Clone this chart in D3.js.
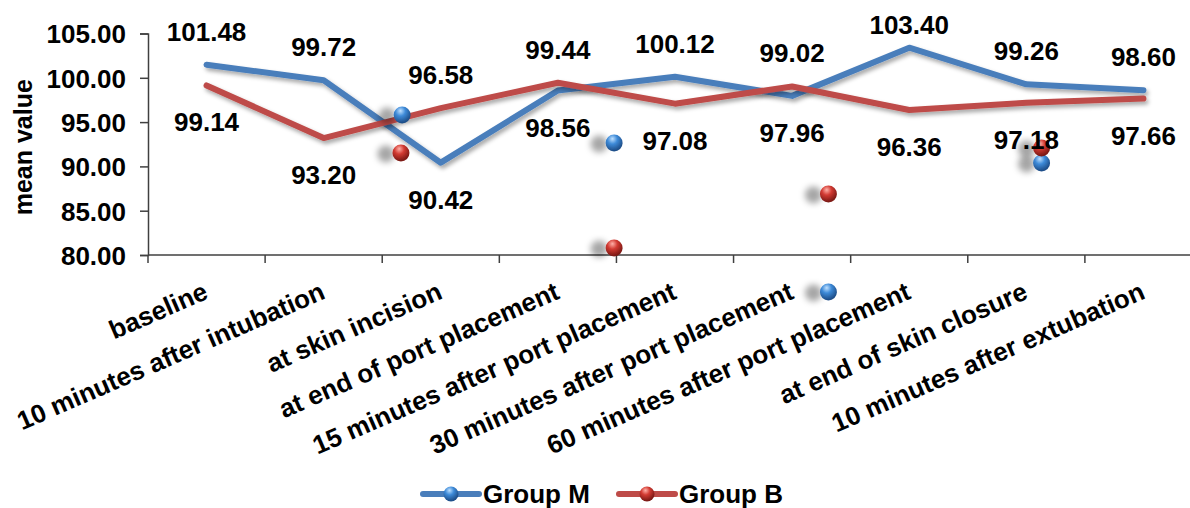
<!DOCTYPE html>
<html>
<head>
<meta charset="utf-8">
<script src="https://cdn.jsdelivr.net/npm/d3@7"></script>
<style>
  html, body { margin: 0; padding: 0; background: #fff; }
  svg { display: block; font-family: "Liberation Sans", Arial, sans-serif; font-weight: bold; }
</style>
</head>
<body>
<svg id="chart" width="1190" height="508"></svg>
<script>
// ---- data ----
const categories = [
  "baseline",
  "10 minutes after intubation",
  "at skin incision",
  "at end of port placement",
  "15 minutes after port placement",
  "30 minutes after port placement",
  "60 minutes after port placement",
  "at end of skin closure",
  "10 minutes after extubation"
];
const groupM = [101.48, 99.72, 90.42, 98.56, 100.12, 97.96, 103.40, 99.26, 98.60];
const groupB = [99.14, 93.20, 96.58, 99.44, 97.08, 99.02, 96.36, 97.18, 97.66];
const seriesNames = ["Group M", "Group B"];
const yTicks = [80, 85, 90, 95, 100, 105];
// stray marker artifacts visible in the source picture (category position, value)
const strayM = [[1.67, 95.80], [3.48, 92.64], [5.31, 75.82], [7.13, 90.38]];
const strayB = [[1.66, 91.51], [3.48, 80.79], [5.31, 86.88], [7.13, 92.08]];

// ---- layout ----
const colors = { "Group M": "#4A7EBB", "Group B": "#BE4B48" };
const svg = d3.select("#chart");
const pLeft = 148, pRight = 1202, pTop = 33.5, pBottom = 255;

const x = d3.scaleBand().domain(categories).range([pLeft, pRight]).paddingInner(0).paddingOuter(0);
const xi = d3.scaleLinear().domain([0, categories.length]).range([pLeft, pRight]);
const y = d3.scaleLinear().domain([80, 105]).range([pBottom, pTop]);
const cx = c => x(c) + x.bandwidth() / 2;

// defs
const defs = svg.append("defs");
const sh = defs.append("filter").attr("id", "lineShadow").attr("x", "-5%").attr("y", "-20%").attr("width", "110%").attr("height", "160%");
sh.append("feDropShadow").attr("dx", 2).attr("dy", 3).attr("stdDeviation", 2).attr("flood-color", "#000").attr("flood-opacity", 0.35);
const msh = defs.append("filter").attr("id", "markerShadow").attr("x", "-300%").attr("y", "-100%").attr("width", "500%").attr("height", "300%");
msh.append("feDropShadow").attr("dx", -15).attr("dy", 1).attr("stdDeviation", 3).attr("flood-color", "#000").attr("flood-opacity", 0.35);

function ballGrad(id, light, base, dark) {
  const g = defs.append("radialGradient").attr("id", id).attr("cx", "40%").attr("cy", "30%").attr("r", "65%").attr("fx", "40%").attr("fy", "25%");
  g.append("stop").attr("offset", "0%").attr("stop-color", light);
  g.append("stop").attr("offset", "45%").attr("stop-color", base);
  g.append("stop").attr("offset", "100%").attr("stop-color", dark);
}
ballGrad("ballM", "#bfe0ff", "#3d8ad8", "#1f4f8a");
ballGrad("ballB", "#ffb0a8", "#d23a32", "#7e1a16");
const ballFill = { "Group M": "url(#ballM)", "Group B": "url(#ballB)" };

// axes
const yAxis = d3.axisLeft(y).tickValues(yTicks).tickSize(8).tickFormat(d => d.toFixed(2));
const gy = svg.append("g").attr("transform", `translate(${pLeft},0)`).call(yAxis);
gy.select(".domain").attr("stroke", "#404040").attr("stroke-width", 1.5);
gy.selectAll(".tick line").attr("stroke", "#404040").attr("stroke-width", 1.5);
gy.selectAll(".tick text").attr("x", -22).attr("dy", "0.36em")
  .style("font-size", "26px").style("font-weight", "bold").style("font-family", "'Liberation Sans', Arial, sans-serif").attr("fill", "#000");

const gx = svg.append("g").attr("transform", `translate(0,${pBottom})`);
gx.append("line").attr("x1", pLeft).attr("x2", pRight).attr("stroke", "#404040").attr("stroke-width", 1.5);
gx.selectAll("line.tk").data(d3.range(categories.length + 1)).join("line").attr("class", "tk")
  .attr("x1", i => xi(i)).attr("x2", i => xi(i)).attr("y1", 0).attr("y2", 8)
  .attr("stroke", "#404040").attr("stroke-width", 1.5);

svg.append("g").selectAll("text").data(categories).join("text")
  .attr("transform", c => `translate(${cx(c) + 3},${pBottom + 43}) rotate(-23.5)`)
  .attr("text-anchor", "end").style("font-size", "26px").attr("fill", "#000")
  .text(c => c);

// y title
svg.append("text").attr("transform", `translate(32,${(pTop + pBottom) / 2 + 3}) rotate(-90)`)
  .attr("text-anchor", "middle").style("font-size", "25px").attr("fill", "#000").text("mean value");

// lines
const series = [
  { name: "Group M", values: groupM, other: groupB, stray: strayM },
  { name: "Group B", values: groupB, other: groupM, stray: strayB }
];
const line = d3.line().x((d, i) => cx(categories[i])).y(d => y(d));
series.forEach(s => {
  svg.append("path").datum(s.values).attr("d", line)
    .attr("fill", "none").attr("stroke", colors[s.name]).attr("stroke-width", 6)
    .attr("stroke-linejoin", "round").attr("stroke-linecap", "round")
    .attr("filter", "url(#lineShadow)");
});

// stray markers
series.forEach(s => {
  svg.append("g").selectAll("circle").data(s.stray).join("circle")
    .attr("cx", d => xi(d[0] + 0.5)).attr("cy", d => y(d[1])).attr("r", 8.5)
    .attr("fill", ballFill[s.name]).attr("filter", "url(#markerShadow)");
});

// data labels: higher series above, lower series below (kept inside the chart top)
series.forEach(s => {
  svg.append("g").selectAll("text").data(s.values).join("text")
    .attr("x", (d, i) => cx(categories[i]))
    .attr("y", (d, i) => d >= s.other[i] ? Math.max(34, y(d) - 24) : y(d) + 46)
    .attr("text-anchor", "middle").style("font-size", "26px").attr("fill", "#000")
    .text(d => d.toFixed(2));
});

// legend
const legendItems = [
  { name: "Group M", x0: 423 },
  { name: "Group B", x0: 619 }
];
const lg = svg.append("g");
legendItems.forEach(it => {
  const g = lg.append("g").attr("transform", `translate(${it.x0},494)`);
  g.append("line").attr("x1", 0).attr("x2", 56).attr("stroke", colors[it.name]).attr("stroke-width", 6).attr("stroke-linecap", "round");
  g.append("circle").attr("cx", 28).attr("r", 7.5).attr("fill", ballFill[it.name]);
  g.append("text").attr("x", 60).attr("y", 8.5).style("font-size", "26px").attr("fill", "#000").text(it.name);
});
</script>
</body>
</html>
